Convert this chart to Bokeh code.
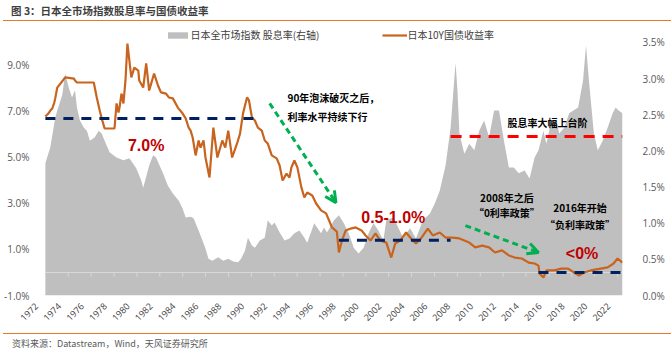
import math
from bokeh.plotting import figure
from bokeh.layouts import column
from bokeh.models import (Range1d, LinearAxis, FixedTicker, PrintfTickFormatter,
                          Label, Arrow, OpenHead, Legend, LegendItem, Div)
from bokeh.embed import file_html
from bokeh.resources import INLINE

# ---------------- texts ----------------
TITLE = "图 3：日本全市场指数股息率与国债收益率"
SOURCE = "资料来源：Datastream，Wind，天风证券研究所"
NAME_DY = "日本全市场指数 股息率(右轴)"
NAME_JGB = "日本10Y国债收益率"

# ---------------- data ----------------
# Japan all-market index dividend yield (%), right axis
dy_year = [1972.00, 1972.43, 1972.86, 1973.04, 1973.47, 1973.73, 1974.07, 1974.33, 1974.59, 1974.76,
           1975.02, 1975.37, 1975.63, 1975.89, 1976.32, 1976.66, 1976.92, 1977.18, 1977.61, 1977.96,
           1978.22, 1978.82, 1979.34, 1979.94, 1980.38, 1980.55, 1981.07, 1981.41, 1981.67, 1982.28,
           1982.71, 1983.14, 1983.66, 1984.00, 1984.26, 1984.69, 1984.95, 1985.39, 1985.73, 1985.99,
           1986.25, 1986.59, 1987.11, 1987.54, 1987.98, 1988.41, 1988.84, 1989.10, 1989.44, 1989.70,
           1990.05, 1990.31, 1990.74, 1991.17, 1991.43, 1991.78, 1992.03, 1992.47, 1992.90, 1993.33,
           1993.76, 1994.19, 1994.63, 1994.88, 1995.49, 1996.09, 1996.35, 1996.61, 1997.22, 1997.65,
           1998.08, 1998.51, 1998.94, 1999.37, 1999.81, 2000.24, 2000.67, 2001.10, 2001.53, 2001.79,
           2002.40, 2002.83, 2003.26, 2003.87, 2004.38, 2004.99, 2005.59, 2006.02, 2006.46, 2006.97,
           2007.41, 2007.84, 2008.01, 2008.18, 2008.61, 2009.04, 2009.48, 2009.91, 2010.34, 2010.77,
           2011.21, 2011.64, 2012.07, 2012.50, 2012.93, 2013.36, 2013.88, 2014.31, 2014.75, 2015.09,
           2015.52, 2015.78, 2016.21, 2016.65, 2016.90, 2017.34, 2017.77, 2018.55, 2018.98, 2019.24,
           2019.50, 2019.93, 2020.27, 2020.70, 2021.13, 2021.57, 2021.83, 2022.09, 2022.43]
dy_value = [1.83, 2.05, 2.46, 2.56, 2.77, 3.07, 2.86, 2.74, 2.84, 2.60,
            2.42, 2.32, 2.28, 2.14, 2.19, 2.28, 2.24, 2.14, 1.98, 1.94,
            1.91, 1.87, 1.90, 1.76, 1.59, 1.49, 1.80, 1.94, 1.91, 1.69,
            1.52, 1.41, 1.31, 1.20, 1.08, 1.09, 1.07, 0.90, 0.76, 0.65,
            0.51, 0.48, 0.53, 0.48, 0.51, 0.47, 0.46, 0.51, 0.62, 0.80,
            0.69, 0.66, 0.76, 0.80, 1.04, 0.97, 1.01, 0.87, 0.76, 0.79,
            0.86, 0.90, 0.80, 0.73, 1.00, 0.86, 0.94, 0.87, 1.04, 1.11,
            1.00, 0.86, 0.66, 0.58, 0.66, 0.86, 1.00, 0.90, 0.76, 1.04,
            1.08, 0.94, 0.80, 0.93, 0.79, 1.04, 1.13, 1.27, 1.45, 1.80,
            2.32, 3.22, 2.84, 2.24, 1.96, 2.10, 2.01, 2.28, 2.42, 2.19,
            2.56, 2.56, 2.14, 1.77, 1.77, 1.69, 1.73, 1.62, 1.91, 2.01,
            2.28, 2.10, 2.42, 2.42, 2.24, 2.32, 2.52, 2.60, 2.97, 3.46,
            2.97, 2.24, 2.01, 2.14, 2.32, 2.52, 2.60, 2.56, 2.52]

# Japan 10Y government bond yield (%), left axis
jgb_year = [1972.00, 1972.26, 1972.43, 1972.60, 1972.78, 1972.86, 1973.04, 1973.73, 1974.50, 1974.59,
            1974.76, 1976.23, 1976.49, 1976.75, 1976.92, 1977.18, 1978.04, 1978.22, 1978.39, 1978.48,
            1978.65, 1978.82, 1979.00, 1979.17, 1979.51, 1979.77, 1980.12, 1980.20, 1980.55, 1980.81,
            1981.07, 1981.50, 1981.84, 1982.10, 1982.54, 1982.79, 1983.14, 1983.57, 1984.00, 1984.26,
            1984.52, 1984.69, 1984.87, 1985.13, 1985.39, 1985.56, 1985.82, 1985.99, 1986.34, 1986.68,
            1987.03, 1987.46, 1987.72, 1987.98, 1988.32, 1988.75, 1989.01, 1989.27, 1989.62, 1989.79,
            1990.05, 1990.31, 1990.57, 1990.91, 1991.17, 1991.43, 1991.78, 1992.21, 1992.47, 1992.73,
            1993.07, 1993.33, 1993.50, 1993.76, 1994.02, 1994.37, 1994.63, 1994.88, 1995.32, 1995.66,
            1996.09, 1996.53, 1996.79, 1997.04, 1997.47, 1997.65, 1997.91, 1998.25, 1998.68, 1999.11,
            1999.63, 1999.98, 2000.41, 2000.84, 2001.27, 2001.79, 2002.22, 2002.57, 2003.00, 2003.52,
            2003.95, 2004.38, 2004.82, 2005.42, 2005.85, 2006.46, 2006.97, 2007.58, 2008.18, 2009.04,
            2009.56, 2010.17, 2010.77, 2011.29, 2011.90, 2012.50, 2013.02, 2013.63, 2014.23, 2014.75,
            2015.09, 2015.18, 2015.52, 2015.78, 2016.47, 2017.08, 2017.68, 2018.20, 2018.63, 2019.06,
            2019.67, 2020.53, 2021.13, 2021.65, 2022.00, 2022.43]
jgb_value = [6.78, 6.91, 7.04, 7.13, 7.39, 7.57, 8.04, 8.48, 8.43, 8.35,
             8.26, 8.26, 7.61, 7.04, 6.70, 6.26, 6.26, 7.35, 6.96, 7.17,
             7.78, 7.35, 8.35, 9.95, 8.48, 8.91, 8.78, 8.35, 8.04, 9.09,
             7.91, 8.65, 8.13, 7.83, 7.78, 7.61, 7.57, 7.17, 6.91, 6.70,
             6.30, 6.17, 5.87, 5.09, 5.74, 5.43, 5.74, 5.00, 4.13, 6.30,
             5.00, 5.74, 5.43, 6.17, 5.00, 5.61, 6.04, 6.91, 7.61, 7.48,
             6.74, 6.61, 6.30, 6.17, 5.74, 5.61, 5.09, 4.96, 4.65, 4.00,
             4.30, 4.13, 4.57, 4.87, 4.57, 3.70, 3.26, 3.48, 3.35, 3.00,
             2.70, 2.57, 2.26, 1.96, 1.78, 0.87, 1.39, 1.83, 1.91, 1.96,
             1.83, 1.61, 1.39, 1.70, 1.39, 1.30, 0.65, 1.26, 1.39, 1.74,
             1.48, 1.26, 1.48, 1.91, 1.61, 1.74, 1.52, 1.52, 1.48, 1.30,
             1.09, 1.17, 1.09, 0.87, 0.96, 0.74, 0.65, 0.61, 0.43, 0.39,
             0.30, -0.04, -0.22, 0.09, 0.09, 0.17, 0.17, 0.00, -0.13, 0.00,
             0.09, 0.17, 0.22, 0.39, 0.61, 0.43]

left_ticks = [-1, 1, 3, 5, 7, 9]
right_ticks = [0.0, 0.5, 1.0, 1.5, 2.0, 2.5, 3.0, 3.5]
year_ticks = list(range(1972, 2023, 2))

# reference levels drawn on the chart (value, from-year, to-year)
navy_level = [6.7, 1.4, 0.0]
navy_from = [1972.0, 1997.65, 2015.09]
navy_to = [1990.74, 2007.41, 2022.43]
red_level = 2.2          # right axis
red_from, red_to = 2007.41, 2022.43

# ---------------- styles ----------------
GRAY = "#BFBFBF"
ORANGE = "#C8641E"
NAVY = "#002060"
RED = "#FF0000"
DARKRED = "#C00000"
GREEN = "#00B050"
RULE = "#E8792B"
CJK = "Noto Sans CJK SC"
NUM = "Open Sans"

W = 671
TITLE_H, SRC_H = 22, 20
FIG_H = 353 - TITLE_H - SRC_H          # 311
X0, X1 = 1971.05, 2022.43               # frame begins a little left of the first year
LABEL_SHIFT = 0.78                      # years: rotated year labels end at their tick

p = figure(width=W, height=FIG_H, output_backend="svg", toolbar_location=None,
           x_range=Range1d(X0, X1), y_range=Range1d(-1, 10.652),
           min_border_left=27, min_border_right=49,
           min_border_top=5, min_border_bottom=38)
p.extra_y_ranges = {"right": Range1d(0, 3.7075)}
p.extra_x_ranges = {"labels": Range1d(X0 + LABEL_SHIFT, X1 + LABEL_SHIFT)}
p.outline_line_color = None
p.xgrid.visible = False
p.ygrid.visible = False
p.background_fill_color = "white"
p.border_fill_color = "white"

# dividend-yield area (right axis)
area = p.varea(x=dy_year, y1=0, y2=dy_value, y_range_name="right", fill_color=GRAY)

# zero line of the left axis with tick marks
p.segment(x0=[dy_year[0]], y0=[0], x1=[dy_year[-1]], y1=[0], line_color="#D9D9D9", line_width=1)
p.segment(x0=year_ticks, y0=[0] * len(year_ticks), x1=year_ticks,
          y1=[-0.18] * len(year_ticks), line_color="#D9D9D9", line_width=1)

# bond yield line
line = p.line(x=jgb_year, y=jgb_value, line_color=ORANGE, line_width=2.2)

# dashed level lines
p.segment(x0=navy_from, y0=navy_level, x1=navy_to, y1=navy_level,
          line_color=NAVY, line_width=3, line_dash="10 8")
p.segment(x0=[red_from], y0=[red_level], x1=[red_to], y1=[red_level],
          y_range_name="right", line_color=RED, line_width=3, line_dash="11 8")

# green dashed arrows
for xs, ys, xe, ye in [(1991.6, 7.35, 1997.39, 3.04), (2008.7, 2.04, 2015.09, 0.87)]:
    p.add_layout(Arrow(x_start=xs, y_start=ys, x_end=xe, y_end=ye,
                       line_color=GREEN, line_width=3, line_dash="6 4",
                       end=OpenHead(size=11, line_color=GREEN, line_width=3)))

# annotations in data space
def dlabel(x, y, text, size, color="black", font=CJK, bold=True, align="center"):
    p.add_layout(Label(x=x, y=y, text=text, text_font=font, text_font_size=size,
                       text_color=color, text_font_style="bold" if bold else "normal",
                       text_align=align, text_baseline="middle"))

dlabel(1980.81, 5.52, "7.0%", "16px", DARKRED, "Liberation Sans")
dlabel(2002.4, 2.39, "0.5-1.0%", "16px", DARKRED, "Liberation Sans")
dlabel(2018.9, 0.83, "<0%", "16px", DARKRED, "Liberation Sans")
dlabel(1993.16, 7.61, "90年泡沫破灭之后，", "10px", align="left")
dlabel(1993.16, 6.78, "利率水平持续下行", "10px", align="left")
dlabel(2015.87, 6.52, "股息率大幅上台阶", "10px")
dlabel(2012.33, 3.26, "2008年之后", "10px")
dlabel(2012.33, 2.61, "“0利率政策”", "10px")
dlabel(2018.72, 2.83, "2016年开始", "10px")
dlabel(2018.72, 2.09, "“负利率政策”", "10px")

# axes
ax = p.yaxis[0]
ax.ticker = FixedTicker(ticks=left_ticks)
ax.formatter = PrintfTickFormatter(format="%.1f%%")
rax = LinearAxis(y_range_name="right", ticker=FixedTicker(ticks=right_ticks),
                 formatter=PrintfTickFormatter(format="%.1f%%"))
p.add_layout(rax, "right")
for a in (ax, rax):
    a.axis_line_color = None
    a.major_tick_line_color = None
    a.minor_tick_line_color = None
    a.major_label_text_font = NUM
    a.major_label_text_font_size = "10px"
    a.major_label_text_color = "#595959"
ax.major_label_standoff = -1
rax.major_label_standoff = 14

p.xaxis[0].visible = False
xa = LinearAxis(x_range_name="labels", ticker=FixedTicker(ticks=year_ticks),
                formatter=PrintfTickFormatter(format="%d"))
xa.axis_line_color = None
xa.major_tick_line_color = None
xa.minor_tick_line_color = None
xa.major_label_orientation = math.pi / 4
xa.major_label_standoff = 3
xa.major_label_text_font = NUM
xa.major_label_text_font_size = "9px"
xa.major_label_text_color = "#404040"
p.add_layout(xa, "below")

# legend (inside the top strip of the frame); location is its bottom-left corner
legend = Legend(items=[LegendItem(label=NAME_DY, renderers=[area]),
                       LegendItem(label=NAME_JGB, renderers=[line])],
                orientation="horizontal", location=(130.5, 253),
                padding=0, margin=0, spacing=62, label_standoff=1,
                glyph_width=25, glyph_height=8, label_height=14,
                border_line_color=None, background_fill_alpha=0,
                label_text_font=CJK, label_text_font_size="10px",
                label_text_color="#404040")
p.add_layout(legend)

title_div = Div(width=W, height=TITLE_H, margin=(0, 0, 0, 0), text=(
    f'<div style="margin-left:3px;width:{W - 3}px;height:{TITLE_H - 1.5}px;'
    f'border-bottom:1.5px solid {RULE};overflow:hidden;">'
    f'<div style="padding-left:8px;line-height:21px;font-family:\'{CJK}\';'
    f'font-size:10.5px;font-weight:bold;color:#3F3F3F;white-space:nowrap;">{TITLE}</div></div>'))
source_div = Div(width=W, height=SRC_H, margin=(0, 0, 0, 0), text=(
    f'<div style="margin-left:3px;width:{W - 3}px;height:{SRC_H - 1.5}px;'
    f'border-top:1.5px solid {RULE};overflow:hidden;">'
    f'<div style="padding-left:9px;line-height:19px;font-family:\'{CJK}\';'
    f'font-size:9px;color:#595959;white-space:nowrap;">{SOURCE}</div></div>'))

layout = column(title_div, p, source_div, spacing=0)
open("out.html", "w").write(file_html(layout, INLINE))
